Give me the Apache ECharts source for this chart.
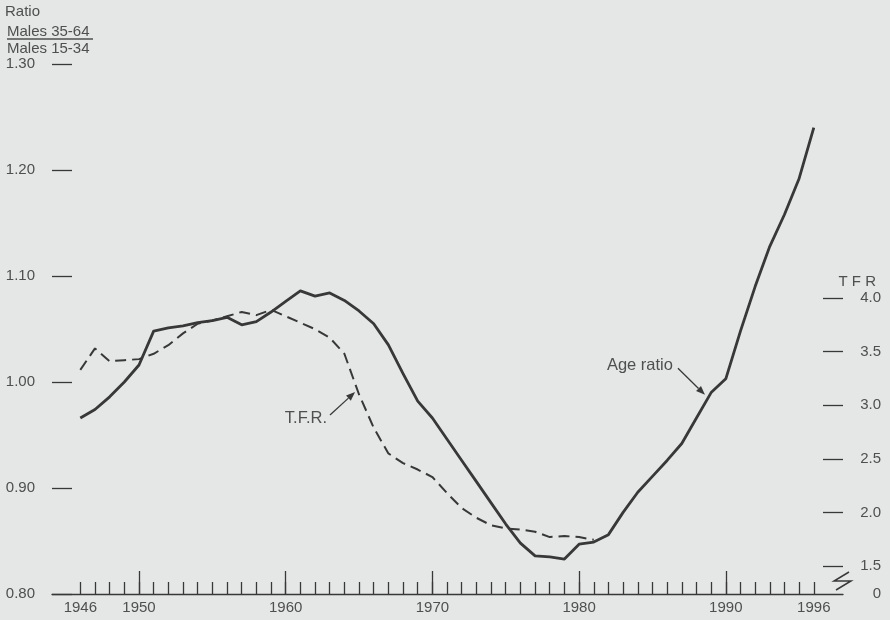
<!DOCTYPE html>
<html>
<head>
<meta charset="utf-8">
<script src="https://cdn.jsdelivr.net/npm/echarts@6/dist/echarts.min.js"></script>
<style>
  html, body { margin: 0; padding: 0; background: #e4e7e6; }
  #chart { width: 890px; height: 620px; }
</style>
</head>
<body>
<div id="chart"></div>
<script>
// Age ratio (males 35-64 / males 15-34), 1946-1996
const years = [1946,1947,1948,1949,1950,1951,1952,1953,1954,1955,1956,1957,1958,1959,1960,
  1961,1962,1963,1964,1965,1966,1967,1968,1969,1970,1971,1972,1973,1974,1975,1976,1977,1978,
  1979,1980,1981,1982,1983,1984,1985,1986,1987,1988,1989,1990,1991,1992,1993,1994,1995,1996];
const ageRatio = [0.966,0.974,0.986,1.000,1.016,1.048,1.051,1.053,1.056,1.058,1.061,1.054,1.057,
  1.066,1.076,1.086,1.081,1.084,1.077,1.067,1.055,1.035,1.008,0.982,0.966,0.946,0.926,0.906,
  0.886,0.866,0.848,0.836,0.835,0.833,0.847,0.849,0.856,0.877,0.896,0.911,0.926,0.942,0.966,
  0.990,1.003,1.048,1.090,1.128,1.158,1.192,1.240];

// Total fertility rate, 1946-1981
const tfrYears = [1946,1947,1948,1949,1950,1951,1952,1953,1954,1955,1956,1957,1958,1959,1960,
  1961,1962,1963,1964,1965,1966,1967,1968,1969,1970,1971,1972,1973,1974,1975,1976,1977,1978,
  1979,1980,1981];
const tfr = [3.33,3.53,3.41,3.42,3.43,3.48,3.56,3.67,3.76,3.79,3.83,3.87,3.84,3.89,3.83,3.77,
  3.71,3.63,3.48,3.10,2.79,2.55,2.46,2.40,2.33,2.18,2.04,1.95,1.88,1.85,1.84,1.82,1.77,1.78,
  1.77,1.745];

// Axis ticks and labels
const yearLabels = [1946,1950,1960,1970,1980,1990,1996];
const decadeTicks = [1950,1960,1970,1980,1990];
const ratioMin = 0.8, ratioMax = 1.3, ratioStep = 0.1;
const tfrTicks = [1.5,2.0,2.5,3.0,3.5,4.0];
const tfrAxisBottom = 1.239, tfrAxisTop = 6.183; // broken axis: bottom reads 0
const yearMin = 1944.07, yearMax = 1997.99;

const INK = '#383838';
const TXT = '#4f4f4f';
const FONT = "'Liberation Sans', Arial, sans-serif";

const chart = echarts.init(document.getElementById('chart'), null, { renderer: 'canvas' });

const yearTicks = years.slice();

const option = {
  backgroundColor: '#e4e7e6',
  animation: false,
  textStyle: { fontFamily: FONT, color: TXT },
  grid: { left: 52, right: 47, top: 64, bottom: 26, containLabel: false },
  xAxis: [
    {
      type: 'value', min: yearMin, max: yearMax, position: 'bottom',
      axisLine: { show: true, lineStyle: { color: INK, width: 1.3 } },
      axisTick: { show: true, inside: true, length: 12, customValues: yearTicks,
        lineStyle: { color: INK, width: 1.3 } },
      axisLabel: { show: true, customValues: yearLabels, margin: 6, fontSize: 15,
        color: TXT, fontFamily: FONT, formatter: v => String(Math.round(v)) },
      splitLine: { show: false }
    },
    {
      type: 'value', min: yearMin, max: yearMax, position: 'bottom',
      axisLine: { show: false },
      axisTick: { show: true, inside: true, length: 23, customValues: decadeTicks,
        lineStyle: { color: INK, width: 1.3 } },
      axisLabel: { show: false },
      splitLine: { show: false }
    }
  ],
  yAxis: [
    {
      type: 'value', min: ratioMin, max: ratioMax, interval: ratioStep, position: 'left',
      axisLine: { show: false },
      axisTick: { show: true, inside: true, length: 20, lineStyle: { color: INK, width: 1.3 } },
      axisLabel: { margin: 17, fontSize: 15, color: TXT, fontFamily: FONT,
        formatter: v => v.toFixed(2) },
      splitLine: { show: false }
    },
    {
      type: 'value', min: tfrAxisBottom, max: tfrAxisTop, position: 'right',
      axisLine: { show: false },
      axisTick: { show: true, inside: true, length: 20, customValues: tfrTicks,
        lineStyle: { color: INK, width: 1.3 } },
      axisLabel: { margin: 38, align: 'right', fontSize: 15, color: TXT, fontFamily: FONT,
        customValues: [tfrAxisBottom].concat(tfrTicks),
        formatter: v => (v < 1.3 ? '0' : v.toFixed(1)) },
      splitLine: { show: false }
    }
  ],
  series: [
    {
      name: 'Age ratio', type: 'line', xAxisIndex: 0, yAxisIndex: 0,
      data: years.map((y, i) => [y, ageRatio[i]]),
      showSymbol: false, symbol: 'none',
      lineStyle: { color: INK, width: 2.8, join: 'round' },
      z: 3
    },
    {
      name: 'T.F.R.', type: 'line', xAxisIndex: 0, yAxisIndex: 1,
      data: tfrYears.map((y, i) => [y, tfr[i]]),
      showSymbol: false, symbol: 'none',
      lineStyle: { color: INK, width: 2, type: [11, 6] },
      z: 2
    }
  ]
};
chart.setOption(option);

// Annotations with arrows, anchored in data coordinates
function arrow(from, to, yAxisIndex) {
  const a = chart.convertToPixel({ xAxisIndex: 0, yAxisIndex }, from);
  const b = chart.convertToPixel({ xAxisIndex: 0, yAxisIndex }, to);
  const ang = Math.atan2(b[1] - a[1], b[0] - a[0]);
  const L = 9, W = 3.5;
  const bx = b[0] - L * Math.cos(ang), by = b[1] - L * Math.sin(ang);
  const head = [
    [b[0], b[1]],
    [bx + W * Math.sin(ang), by - W * Math.cos(ang)],
    [bx - W * Math.sin(ang), by + W * Math.cos(ang)]
  ];
  return [
    { type: 'line', shape: { x1: a[0], y1: a[1], x2: bx, y2: by },
      style: { stroke: INK, lineWidth: 1.3 }, z: 10 },
    { type: 'polygon', shape: { points: head }, style: { fill: INK }, z: 10 },
    { a, b }
  ];
}

const tfrArrow = arrow([1963.02, 2.909], [1964.73, 3.123], 1);
const ageArrow = arrow([1986.74, 1.013], [1988.58, 0.988], 0);
const tfrA = tfrArrow.pop().a;
const ageA = ageArrow.pop().a;

chart.setOption({
  graphic: [
    // left axis title: ratio of two age groups
    { type: 'text', left: 5, top: 4, style: { text: 'Ratio', fontSize: 15, fill: TXT, fontFamily: FONT } },
    { type: 'text', left: 7, top: 24, style: { text: 'Males 35-64', fontSize: 15, fill: TXT, fontFamily: FONT } },
    { type: 'line', shape: { x1: 7, y1: 39, x2: 93, y2: 39 }, style: { stroke: TXT, lineWidth: 1.3 } },
    { type: 'text', left: 7, top: 41, style: { text: 'Males 15-34', fontSize: 15, fill: TXT, fontFamily: FONT } },
    // right axis title
    { type: 'text', right: 14, top: 274, style: { text: 'T F R', fontSize: 15, fill: TXT, fontFamily: FONT } },
    // axis break mark
    { type: 'polyline', shape: { points: [[849, 572], [834, 581], [851, 581], [836, 590]] },
      style: { stroke: INK, lineWidth: 1.5, fill: null }, z: 10 },
    // series labels
    { type: 'text', x: tfrA[0] - 3, y: tfrA[1] + 3,
      style: { text: 'T.F.R.', fontSize: 16.5, fill: TXT, fontFamily: FONT, align: 'right', verticalAlign: 'middle' } },
    { type: 'text', x: ageA[0] - 5, y: ageA[1] - 3,
      style: { text: 'Age ratio', fontSize: 16.5, fill: TXT, fontFamily: FONT, align: 'right', verticalAlign: 'middle' } }
  ].concat(tfrArrow, ageArrow)
});
</script>
</body>
</html>
